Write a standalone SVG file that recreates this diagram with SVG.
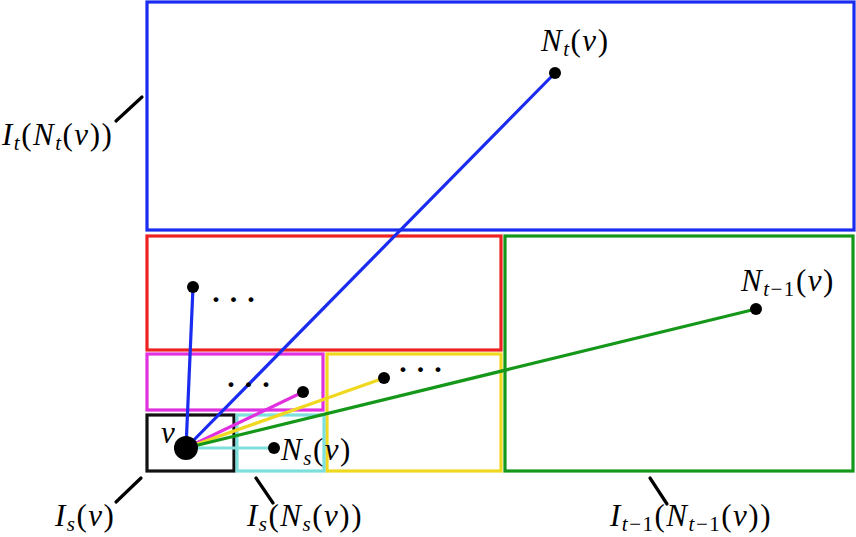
<svg xmlns="http://www.w3.org/2000/svg" width="856" height="537" viewBox="0 0 856 537">
<style>
rect{fill:none;stroke-width:3.2}
.c line{stroke-width:3.2;stroke-linecap:round}
.t{stroke:#000;stroke-width:3.5}
text{font-family:"Liberation Serif","DejaVu Serif",serif;font-size:31px;fill:#000;letter-spacing:1.5px}
.i{font-style:italic}
.s{font-size:21px;font-style:italic}
.d{fill:#000}
.dots{font-size:30px;font-weight:bold;letter-spacing:0}
</style>
<rect style="fill:#fff;stroke:none" x="0" y="0" width="856" height="537"/>
<g id="box-It"><rect x="147" y="2" width="707" height="228" stroke="#1a2cf0"/></g>
<g id="box-red"><rect x="147" y="236" width="354" height="114" stroke="#ee2222"/></g>
<g id="box-green"><rect x="505" y="236" width="348" height="235" stroke="#15981a"/></g>
<g id="box-magenta"><rect x="147" y="354" width="176" height="56" stroke="#e030e0"/></g>
<g id="box-yellow"><rect x="327" y="354" width="174" height="117" stroke="#f0d820"/></g>
<g id="box-black"><rect x="147" y="415" width="87" height="56" stroke="#111"/></g>
<g id="box-cyan"><rect x="237" y="415" width="87" height="56" stroke="#7ee0dc"/></g>
<g class="c" id="connectors">
<line x1="186" y1="448" x2="274" y2="448" stroke="#7ee0dc"/>
<line x1="186" y1="448" x2="303" y2="392" stroke="#e030e0"/>
<line x1="186" y1="448" x2="384" y2="378" stroke="#f0d820"/>
<line x1="186" y1="448" x2="756" y2="309" stroke="#15981a"/>
<line x1="186" y1="448" x2="193" y2="287" stroke="#1a2cf0"/>
<line x1="186" y1="448" x2="555" y2="73" stroke="#1a2cf0"/>
<line class="t" x1="116" y1="121" x2="142" y2="97"/>
<line class="t" x1="116" y1="502" x2="141" y2="478"/>
<line class="t" x1="256" y1="478" x2="273" y2="503"/>
<line class="t" x1="650" y1="478" x2="667" y2="504"/>
</g>
<g id="node-v"><circle class="d" cx="186" cy="448" r="12"/><text class="i" x="161" y="443">v</text></g>
<g id="node-Ns"><circle class="d" cx="274" cy="448" r="6"/><text x="281" y="460"><tspan class="i">N</tspan><tspan class="s" dy="5">s</tspan><tspan dy="-5">(</tspan><tspan class="i">v</tspan>)</text></g>
<g id="node-mag"><circle class="d" cx="303" cy="392" r="6"/><text class="dots" x="226" y="394">· · ·</text></g>
<g id="node-yel"><circle class="d" cx="384" cy="378" r="6"/><text class="dots" x="398" y="379">· · ·</text></g>
<g id="node-red"><circle class="d" cx="193" cy="287" r="6"/><text class="dots" x="211" y="309">· · ·</text></g>
<g id="node-Nt"><circle class="d" cx="555" cy="73" r="6"/><text x="541" y="51"><tspan class="i">N</tspan><tspan class="s" dy="5">t</tspan><tspan dy="-5">(</tspan><tspan class="i">v</tspan>)</text></g>
<g id="node-Nt1"><circle class="d" cx="756" cy="309" r="6"/><text x="741" y="291"><tspan class="i">N</tspan><tspan class="s" dy="5">t</tspan><tspan style="font-size:21px">−1</tspan><tspan dy="-5">(</tspan><tspan class="i">v</tspan>)</text></g>
<g id="label-It"><text x="2" y="145"><tspan class="i">I</tspan><tspan class="s" dy="5">t</tspan><tspan dy="-5">(</tspan><tspan class="i">N</tspan><tspan class="s" dy="5">t</tspan><tspan dy="-5">(</tspan><tspan class="i">v</tspan>))</text></g>
<g id="label-Isv"><text x="55" y="526"><tspan class="i">I</tspan><tspan class="s" dy="5">s</tspan><tspan dy="-5">(</tspan><tspan class="i">v</tspan>)</text></g>
<g id="label-IsNs"><text x="247" y="526"><tspan class="i">I</tspan><tspan class="s" dy="5">s</tspan><tspan dy="-5">(</tspan><tspan class="i">N</tspan><tspan class="s" dy="5">s</tspan><tspan dy="-5">(</tspan><tspan class="i">v</tspan>))</text></g>
<g id="label-It1"><text x="610" y="526"><tspan class="i">I</tspan><tspan class="s" dy="5">t</tspan><tspan style="font-size:21px">−1</tspan><tspan dy="-5">(</tspan><tspan class="i">N</tspan><tspan class="s" dy="5">t</tspan><tspan style="font-size:21px">−1</tspan><tspan dy="-5">(</tspan><tspan class="i">v</tspan>))</text></g>
</svg>
